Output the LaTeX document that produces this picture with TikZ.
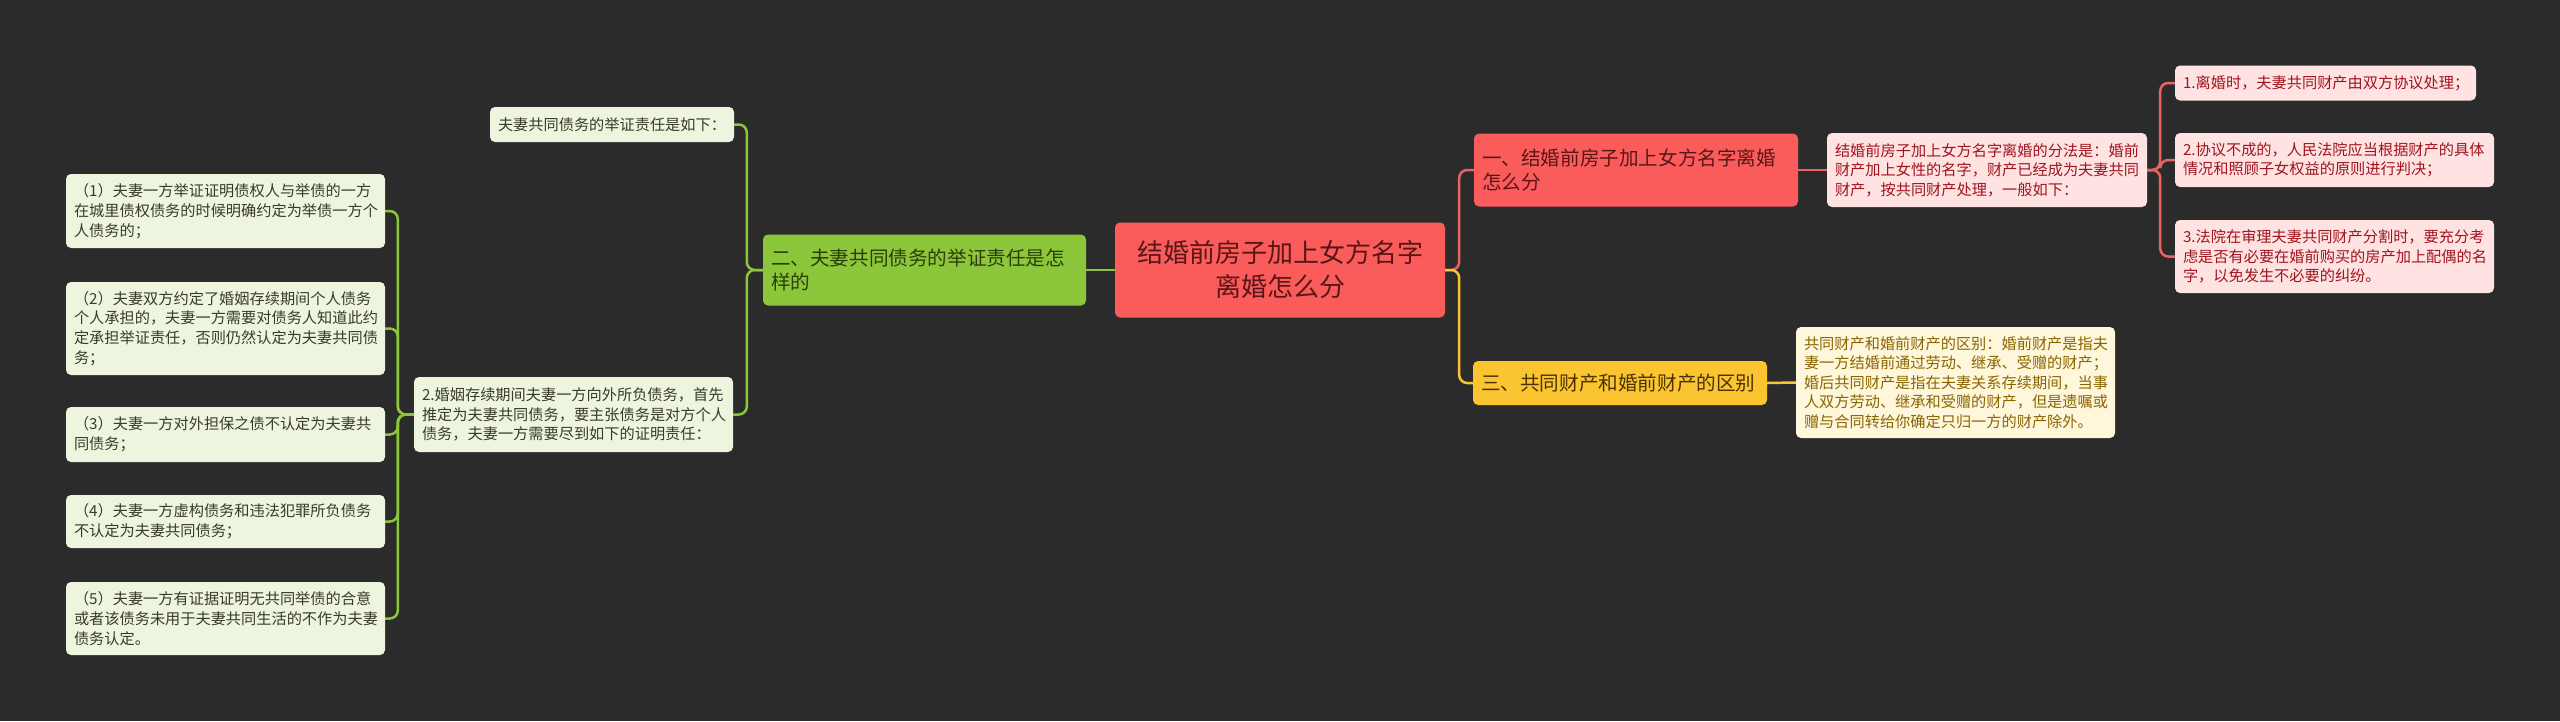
\documentclass[tikz,border=0pt]{standalone}
\usepackage{fontspec}
\setmainfont{Noto Sans CJK SC}
\definecolor{bgdark}{HTML}{2B2B2B}
\definecolor{rootred}{HTML}{FA5C5C}
\definecolor{roottext}{HTML}{5A1616}
\definecolor{redpale}{HTML}{FFE3E3}
\definecolor{redtext}{HTML}{A0141E}
\definecolor{redwire}{HTML}{E86464}
\definecolor{grnfill}{HTML}{8CC63A}
\definecolor{grntext}{HTML}{2C3E0A}
\definecolor{grnpale}{HTML}{EEF5DE}
\definecolor{grnleaf}{HTML}{3A3A2A}
\definecolor{yelfill}{HTML}{FBC531}
\definecolor{yeltext}{HTML}{4A3200}
\definecolor{yelpale}{HTML}{FFF7DC}
\definecolor{yeldeep}{HTML}{8A6500}
\tikzset{
  box/.style={rounded corners=5pt, inner xsep=8pt, inner ysep=3pt, align=left},
  topic/.style={box, fill=rootred, text=roottext, align=center,
    font=\fontsize{26}{34}\selectfont},
  redmain/.style={box, fill=rootred, text=roottext, font=\fontsize{19.6}{24}\selectfont},
  grnmain/.style={box, fill=grnfill, text=grntext, font=\fontsize{19.6}{24}\selectfont},
  yelmain/.style={box, fill=yelfill, text=yeltext, font=\fontsize{19.6}{24}\selectfont},
  redleaf/.style={box, fill=redpale, text=redtext, font=\fontsize{15.2}{19.5}\selectfont},
  grnnote/.style={box, fill=grnpale, text=grnleaf, font=\fontsize{15.2}{19.8}\selectfont},
  yelnote/.style={box, fill=yelpale, text=yeldeep, font=\fontsize{15.2}{19.6}\selectfont},
  wire/.style={line width=2.5pt, rounded corners=8pt},
}
\begin{document}
\begin{tikzpicture}[x=1pt, y=-1pt]
  \fill[bgdark] (0,0) rectangle (2560,721);
  \useasboundingbox (0,0) rectangle (2560,721);

  % centre
  \node[topic, text width=314pt, minimum height=95pt] (root) at (1280,270)
    {结婚前房子加上女方名字\\离婚怎么分};

  % right side
  \node[redmain, text width=308pt, minimum height=73pt] (b1) at (1636,170)
    {一、结婚前房子加上女方名字离婚\\怎么分};
  \node[redleaf, text width=304pt, minimum height=74pt] (b1d) at (1987,170)
    {结婚前房子加上女方名字离婚的分法是：婚前\\财产加上女性的名字，财产已经成为夫妻共同\\财产，按共同财产处理，一般如下：};
  \node[redleaf, text width=285pt, minimum height=35pt] (r1) at (2325.5,83)
    {1.离婚时，夫妻共同财产由双方协议处理；};
  \node[redleaf, text width=303pt, minimum height=54pt] (r2) at (2334.5,160)
    {2.协议不成的，人民法院应当根据财产的具体\\情况和照顾子女权益的原则进行判决；};
  \node[redleaf, text width=303pt, minimum height=73pt] (r3) at (2334.5,256.5)
    {3.法院在审理夫妻共同财产分割时，要充分考\\虑是否有必要在婚前购买的房产加上配偶的名\\字，以免发生不必要的纠纷。};

  \node[yelmain, text width=278pt, minimum height=44pt] (b3) at (1620,383)
    {三、共同财产和婚前财产的区别};
  \node[yelnote, text width=303pt, minimum height=111pt] (b3d) at (1955.5,382.5)
    {共同财产和婚前财产的区别：婚前财产是指夫\\妻一方结婚前通过劳动、继承、受赠的财产；\\婚后共同财产是指在夫妻关系存续期间，当事\\人双方劳动、继承和受赠的财产，但是遗嘱或\\赠与合同转给你确定只归一方的财产除外。};

  % left side
  \node[grnmain, text width=307pt, minimum height=71pt] (b2) at (924.5,270)
    {二、夫妻共同债务的举证责任是怎\\样的};
  \node[grnnote, text width=228pt, minimum height=35pt] (g0) at (612,124.5)
    {夫妻共同债务的举证责任是如下：};
  \node[grnnote, text width=303pt, minimum height=75pt] (g1) at (573.5,414.5)
    {2.婚姻存续期间夫妻一方向外所负债务，首先\\推定为夫妻共同债务，要主张债务是对方个人\\债务，夫妻一方需要尽到如下的证明责任：};
  \node[grnnote, text width=303pt, minimum height=74pt] (l1) at (225.5,211)
    {（1）夫妻一方举证证明债权人与举债的一方\\在城里债权债务的时候明确约定为举债一方个\\人债务的；};
  \node[grnnote, text width=303pt, minimum height=93pt] (l2) at (225.5,328.5)
    {（2）夫妻双方约定了婚姻存续期间个人债务\\个人承担的，夫妻一方需要对债务人知道此约\\定承担举证责任，否则仍然认定为夫妻共同债\\务；};
  \node[grnnote, text width=303pt, minimum height=55pt] (l3) at (225.5,434.5)
    {（3）夫妻一方对外担保之债不认定为夫妻共\\同债务；};
  \node[grnnote, text width=303pt, minimum height=53pt] (l4) at (225.5,521.5)
    {（4）夫妻一方虚构债务和违法犯罪所负债务\\不认定为夫妻共同债务；};
  \node[grnnote, text width=303pt, minimum height=73pt] (l5) at (225.5,618.5)
    {（5）夫妻一方有证据证明无共同举债的合意\\或者该债务未用于夫妻共同生活的不作为夫妻\\债务认定。};

  % wires
  \draw[wire, redwire] (root.east) -- ++(14,0) |- (b1.west);
  \draw[wire, yelfill] (root.east) -- ++(14,0) |- (b3.west);
  \draw[wire, grnfill] (root.west) -- (b2.east);
  \draw[wire, redwire] (b1.east) -- (b1d.west);
  \foreach \n in {r1,r2,r3} { \draw[wire, redwire] (b1d.east) -- ++(13,0) |- (\n.west); }
  \draw[wire, yelfill] (b3.east) -- (b3d.west);
  \foreach \n in {g0,g1} { \draw[wire, grnfill] (b2.west) -- ++(-16,0) |- (\n.east); }
  \foreach \n in {l1,l2,l3,l4,l5} { \draw[wire, grnfill] (g1.west) -- ++(-16,0) |- (\n.east); }
\end{tikzpicture}
\end{document}
